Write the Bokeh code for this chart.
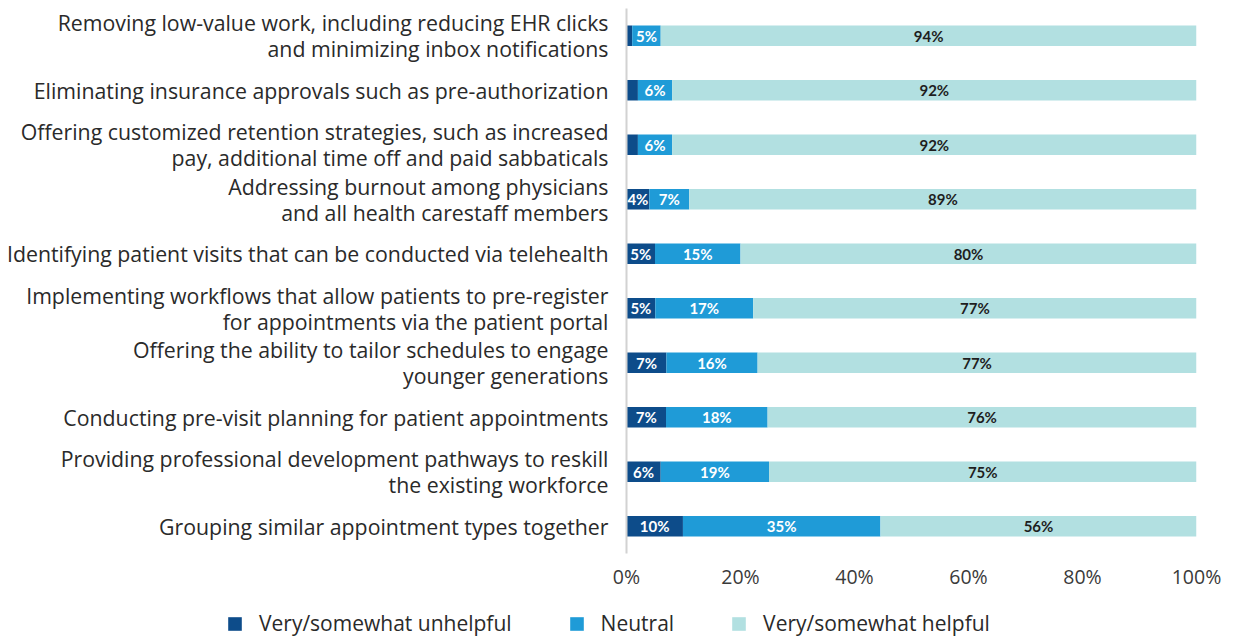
from bokeh.plotting import figure
from bokeh.layouts import column
from bokeh.models import ColumnDataSource, FactorRange, Legend, LegendItem, FixedTicker, CustomJSTickFormatter, Range1d
from bokeh.core.properties import value
from bokeh.embed import file_html
from bokeh.resources import INLINE

categories = [
    "Removing low-value work, including reducing EHR clicks\nand minimizing inbox notifications",
    "Eliminating insurance approvals such as pre-authorization",
    "Offering customized retention strategies, such as increased\npay, additional time off and paid sabbaticals",
    "Addressing burnout among physicians\nand all health carestaff members",
    "Identifying patient visits that can be conducted via telehealth",
    "Implementing workflows that allow patients to pre-register\nfor appointments via the patient portal",
    "Offering the ability to tailor schedules to engage\nyounger generations",
    "Conducting pre-visit planning for patient appointments",
    "Providing professional development pathways to reskill\nthe existing workforce",
    "Grouping similar appointment types together",
]
unhelpful = [1, 2, 2, 4, 5, 5, 7, 7, 6, 10]
neutral = [5, 6, 6, 7, 15, 17, 16, 18, 19, 35]
helpful = [94, 92, 92, 89, 80, 77, 77, 76, 75, 56]
series = ["Very/somewhat unhelpful", "Neutral", "Very/somewhat helpful"]
colors = ["#0d4c8a", "#1f9bd7", "#b2e0e1"]
tick_values = [0, 20, 40, 60, 80, 100]

FONT = "Open Sans"
LFONT = "Lato"

# bars are drawn as shares of each row's total (labels keep the rounded values)
tot = [u + n + h for u, n, h in zip(unhelpful, neutral, helpful)]
su = [u / t * 100 for u, t in zip(unhelpful, tot)]
sn = [n / t * 100 for n, t in zip(neutral, tot)]
sh = [h / t * 100 for h, t in zip(helpful, tot)]

src = ColumnDataSource(dict(cat=categories, u=su, n=sn, h=sh))

p = figure(width=1235, height=592, output_backend="svg", toolbar_location=None,
           y_range=FactorRange(factors=list(reversed(categories)), range_padding=0),
           x_range=Range1d(0, 100),
           min_border_left=626, min_border_right=39, min_border_top=8, min_border_bottom=34)
p.frame_align = False
p.outline_line_color = None
p.grid.visible = False

rs = p.hbar_stack(["u", "n", "h"], y="cat", height=0.38, color=colors, source=src,
                  line_color=None)

# segment labels
lu_x, lu_y, lu_t = [], [], []
ln_x, ln_y, ln_t = [], [], []
lh_x, lh_y, lh_t = [], [], []
for c, u, n, h, a, b, d in zip(categories, unhelpful, neutral, helpful, su, sn, sh):
    if u >= 3:
        lu_x.append(a / 2); lu_y.append(c); lu_t.append(f"{u}%")
    ln_x.append(a + b / 2); ln_y.append(c); ln_t.append(f"{n}%")
    lh_x.append(a + b + d / 2); lh_y.append(c); lh_t.append(f"{h}%")

for xs, ys, ts, col in [(lu_x, lu_y, lu_t, "white"), (ln_x, ln_y, ln_t, "white"),
                        (lh_x, lh_y, lh_t, "#1e1e1e")]:
    p.text(x=xs, y=ys, text=ts, text_align="center", text_baseline="middle",
           text_font=value(LFONT), text_font_size="15px", text_font_style="bold",
           text_color=col)

# axes
p.xaxis.ticker = FixedTicker(ticks=tick_values)
p.xaxis.formatter = CustomJSTickFormatter(code="return tick + '%';")
p.xaxis.axis_line_color = None
p.xaxis.major_tick_line_color = None
p.xaxis.minor_tick_line_color = None
p.xaxis.major_label_standoff = 3
p.xaxis.major_label_text_font = FONT
p.xaxis.major_label_text_font_size = "19.5px"
p.xaxis.major_label_text_color = "#3a3a3a"

p.yaxis.axis_line_color = "#d2d2d2"
p.yaxis.axis_line_width = 2
p.yaxis.major_tick_line_color = None
p.yaxis.minor_tick_line_color = None
p.yaxis.major_label_standoff = 12
p.yaxis.major_label_text_font = FONT
p.yaxis.major_label_text_font_size = "21.3px"
p.yaxis.major_label_text_line_height = 0.88
p.yaxis.major_label_text_color = "#2a2a2a"

# legend strip below the chart
lf = figure(width=1235, height=45, output_backend="svg", toolbar_location=None,
            x_range=Range1d(0, 100), y_range=FactorRange(factors=list(reversed(categories))),
            x_axis_location=None, y_axis_location=None,
            min_border_left=0, min_border_right=0, min_border_top=0, min_border_bottom=0)
lf.frame_align = False
lf.outline_line_color = None
lf.grid.visible = False
lrs = lf.hbar_stack(["u", "n", "h"], y="cat", height=0.38, color=colors, source=src,
                    line_color=None)
for r in lrs:
    r.visible = False

legend = Legend(items=[LegendItem(label=s, renderers=[r]) for s, r in zip(series, lrs)],
                orientation="horizontal", location=(226, 0))
legend.label_text_font = FONT
legend.label_text_font_size = "21px"
legend.label_text_line_height = 0.9
legend.label_height = 18
legend.label_text_color = "#2a2a2a"
legend.glyph_width = 17
legend.glyph_height = 17
legend.spacing = 56
legend.padding = 0
legend.margin = 0
legend.border_line_color = None
legend.background_fill_alpha = 0
legend.label_standoff = 16
lf.add_layout(legend, "center")

layout = column(p, lf, spacing=0)
open("out.html", "w").write(file_html(layout, INLINE))
